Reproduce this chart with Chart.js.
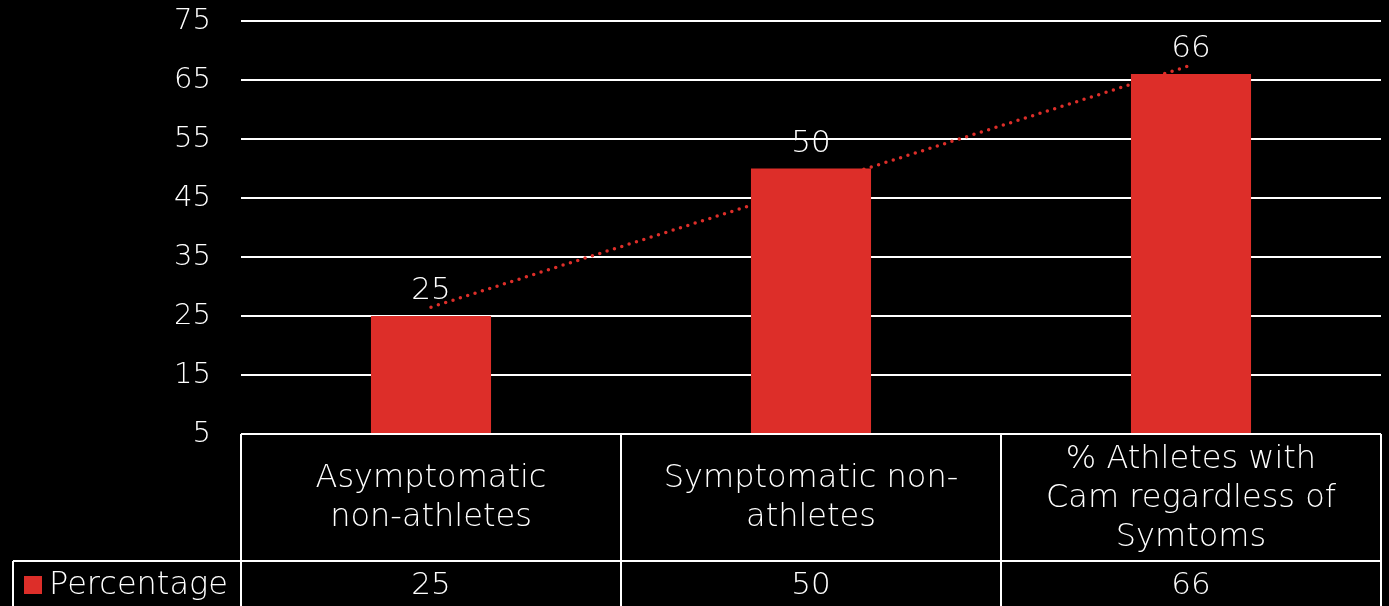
<!DOCTYPE html>
<html>
<head>
<meta charset="utf-8">
<script src="https://cdn.jsdelivr.net/npm/chart.js@4"></script>
<style>
  html, body { margin: 0; padding: 0; background: #000; }
  #wrap { width: 1389px; height: 606px; }
</style>
</head>
<body>
<div id="wrap"><canvas id="barChart"></canvas></div>
<script>
// chart data
const categories = [
  ["Asymptomatic", "non-athletes"],
  ["Symptomatic non-", "athletes"],
  ["% Athletes with", "Cam regardless of", "Symtoms"]
];
const seriesName = "Percentage";
const percentage = [25, 50, 66];
const yTicks = { min: 5, max: 75, step: 10 };

const barRed = "#DD2E29";
const fontFamily = '"DejaVu Sans", sans-serif';
const fontWeight = "200";
const numFont = fontWeight + " 31px " + fontFamily;
const textFont = fontWeight + " 32px " + fontFamily;

// linear trendline (like the office one) from the bar values
function trend(values) {
  const n = values.length;
  const mx = (n + 1) / 2;
  const my = values.reduce((a, b) => a + b, 0) / n;
  let num = 0, den = 0;
  values.forEach((v, i) => { num += (i + 1 - mx) * (v - my); den += (i + 1 - mx) ** 2; });
  const k = num / den;
  return values.map((v, i) => my + k * (i + 1 - mx));
}

// black background
const bgPlugin = {
  id: "bg",
  beforeDraw(chart) {
    const c = chart.ctx;
    c.save();
    c.fillStyle = "#000";
    c.fillRect(0, 0, chart.width, chart.height);
    c.restore();
  }
};

// value labels above bars
const valueLabels = {
  id: "valueLabels",
  afterDatasetsDraw(chart) {
    const c = chart.ctx;
    const meta = chart.getDatasetMeta(0);
    c.save();
    c.fillStyle = "#fff";
    c.font = numFont;
    c.textAlign = "center";
    c.textBaseline = "alphabetic";
    meta.data.forEach((bar, i) => {
      c.fillText(String(percentage[i]), bar.x, bar.y - 17);
    });
    c.restore();
  }
};

// data table under the plot
const dataTable = {
  id: "dataTable",
  afterDraw(chart) {
    const c = chart.ctx;
    const area = chart.chartArea;
    const x = chart.scales.x;
    const top = area.bottom;
    const mid = 561;
    const bottom = 606;
    const legendLeft = 13;
    const colW = (area.right - area.left) / categories.length;

    c.save();
    c.strokeStyle = "#fff";
    c.lineWidth = 2;
    c.beginPath();
    c.moveTo(area.left, top); c.lineTo(area.right, top);
    c.moveTo(legendLeft, mid); c.lineTo(area.right, mid);
    c.moveTo(legendLeft, mid); c.lineTo(legendLeft, bottom);
    for (let i = 0; i <= categories.length; i++) {
      const lx = area.left + colW * i;
      c.moveTo(lx, top); c.lineTo(lx, bottom);
    }
    c.stroke();

    c.fillStyle = "#fff";
    c.textAlign = "center";
    c.textBaseline = "middle";
    const lineH = 39;
    categories.forEach((lines, i) => {
      const cx = x.getPixelForValue(i);
      const cy = (top + mid) / 2 + 1;
      const y0 = cy - (lines.length - 1) * lineH / 2;
      c.font = textFont;
      lines.forEach((t, j) => c.fillText(t, cx, y0 + j * lineH));
      c.font = numFont;
      c.fillText(String(percentage[i]), cx, (mid + bottom) / 2 + 2);
    });

    // legend key
    c.fillStyle = barRed;
    c.fillRect(24, 576, 18, 18);
    c.fillStyle = "#fff";
    c.textAlign = "left";
    c.font = textFont;
    c.fillText(seriesName, 49, (mid + bottom) / 2 + 2);
    c.restore();
  }
};

new Chart("barChart", {
  type: "bar",
  data: {
    labels: categories,
    datasets: [{
      label: seriesName,
      data: percentage,
      backgroundColor: barRed,
      barPercentage: 0.316,
      categoryPercentage: 1,
      order: 1
    }, {
      type: "line",
      label: "Trend",
      data: trend(percentage),
      borderColor: barRed,
      borderWidth: 3.5,
      borderDash: [0, 7.7],
      borderCapStyle: "round",
      pointRadius: 0,
      fill: false,
      order: 2
    }]
  },
  options: {
    responsive: true,
    maintainAspectRatio: false,
    animation: false,
    layout: { padding: { top: 21, right: 8, bottom: 172, left: 0 } },
    plugins: {
      legend: { display: false },
      tooltip: { enabled: false }
    },
    scales: {
      x: { display: false },
      y: {
        min: yTicks.min,
        max: yTicks.max,
        afterFit(s) { s.width = 241; s.paddingTop = 0; },
        border: { display: false },
        grid: { color: "#fff", lineWidth: 2, drawTicks: false },
        ticks: {
          stepSize: yTicks.step,
          color: "#fff",
          padding: 30,
          font: { family: fontFamily, size: 29, weight: fontWeight }
        }
      }
    }
  },
  plugins: [bgPlugin, valueLabels, dataTable]
});
</script>
</body>
</html>
